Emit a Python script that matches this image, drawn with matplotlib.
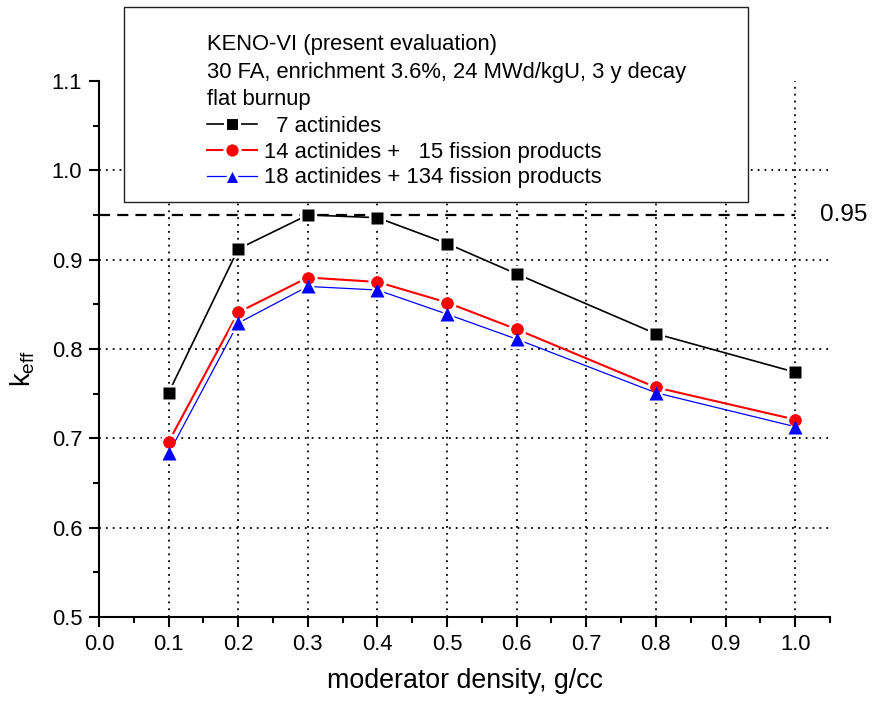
import numpy as np
import matplotlib
matplotlib.use('Agg')
import matplotlib.pyplot as plt
from matplotlib.patches import Rectangle
from matplotlib.ticker import MultipleLocator

plt.rcParams['font.family'] = ['Liberation Sans', 'DejaVu Sans']

# moderator density, g/cc
density = [0.1, 0.2, 0.3, 0.4, 0.5, 0.6, 0.8, 1.0]
# k_eff for each nuclide set
keff_7act = [0.751, 0.912, 0.950, 0.947, 0.918, 0.884, 0.817, 0.774]
keff_14act15fp = [0.696, 0.841, 0.880, 0.875, 0.852, 0.822, 0.757, 0.721]
keff_18act134fp = [0.683, 0.829, 0.870, 0.866, 0.839, 0.811, 0.751, 0.713]
labels = ['  7 actinides',
          '14 actinides +   15 fission products',
          '18 actinides + 134 fission products']
header = ['KENO-VI (present evaluation)',
          '30 FA, enrichment 3.6%, 24 MWd/kgU, 3 y decay',
          'flat burnup']
limit = 0.95

fig = plt.figure(figsize=(8.73, 7.06), dpi=100)
ax = fig.add_axes([0.1134, 0.1261, 0.8373, 0.7592])

# (series, colour, marker, visible marker size, line width)
styles = [(keff_7act, 'black', 's', 8.0, 1.2),
          (keff_14act15fp, 'red', 'o', 8.8, 1.5),
          (keff_18act134fp, 'blue', '^', 9.6, 0.9)]
handles = []
for (vals, col, mk, ms, lw), lab in zip(styles, labels):
    # line with white halo around the marker (Origin-like gap)
    h, = ax.plot(density, vals, color=col, lw=lw, marker=mk, ms=ms + 2.2,
                 mfc=col, mec='white', mew=2.2, zorder=3, label=lab)
    handles.append(h)
for vals, col, mk, ms, lw in styles:
    ax.plot(density, vals, ls='none', marker=mk, ms=ms, mfc=col, mec='none',
            zorder=4)

ax.hlines(limit, 0, density[-1], colors='black', lw=1.6,
          linestyles=(0, (5, 3.2)), zorder=2)
ax.text(1.036, limit, '0.95', fontsize=17.5, ha='left', va='center',
        clip_on=False)

ax.set_xlim(0, 1.05)
ax.set_ylim(0.5, 1.1)
ax.set_xticks(np.arange(0, 1.01, 0.1))
ax.set_yticks(np.arange(0.5, 1.101, 0.1))
ax.xaxis.set_minor_locator(MultipleLocator(0.05))
ax.yaxis.set_minor_locator(MultipleLocator(0.05))
ax.xaxis.set_major_formatter(plt.FormatStrFormatter('%.1f'))
ax.yaxis.set_major_formatter(plt.FormatStrFormatter('%.1f'))

for s in ['top', 'right']:
    ax.spines[s].set_visible(False)
for s in ['left', 'bottom']:
    ax.spines[s].set_linewidth(1.5)
ax.tick_params(which='major', length=7.5, width=1.5, labelsize=15.8, pad=4.5)
ax.tick_params(which='minor', length=4, width=1.5)

ax.grid(True, which='major', color='black', lw=1.3, ls=(0, (1, 2.8)))
ax.yaxis.get_gridlines()[-1].set_visible(False)
ax.xaxis.get_gridlines()[0].set_visible(False)
ax.yaxis.get_gridlines()[0].set_visible(False)

ax.set_xlabel('moderator density, g/cc', fontsize=19.3)
ax.xaxis.set_label_coords(0.5, -0.095)
ax.set_ylabel(r'$\mathregular{k_{eff}}$', fontsize=19.5)
ax.yaxis.set_label_coords(-0.085, 0.4627)

# legend box sticking out above the axes
box = Rectangle((0.1420, 0.7139), 0.7148, 0.2762, transform=fig.transFigure,
                facecolor='white', edgecolor='#222222', lw=1.0, zorder=5)
fig.add_artist(box)
fig.text(0.2371, 0.8980, '\n'.join(header), fontsize=15.8, ha='left',
         va='center', linespacing=1.38, zorder=6)
fig.legend(handles=handles, loc='upper left', bbox_to_anchor=(0.2371, 0.8360),
           frameon=False, fontsize=15.8, borderpad=0, borderaxespad=0,
           handlelength=2.3, handletextpad=0.28, labelspacing=0.22)

fig.savefig('out.png', dpi=100)
